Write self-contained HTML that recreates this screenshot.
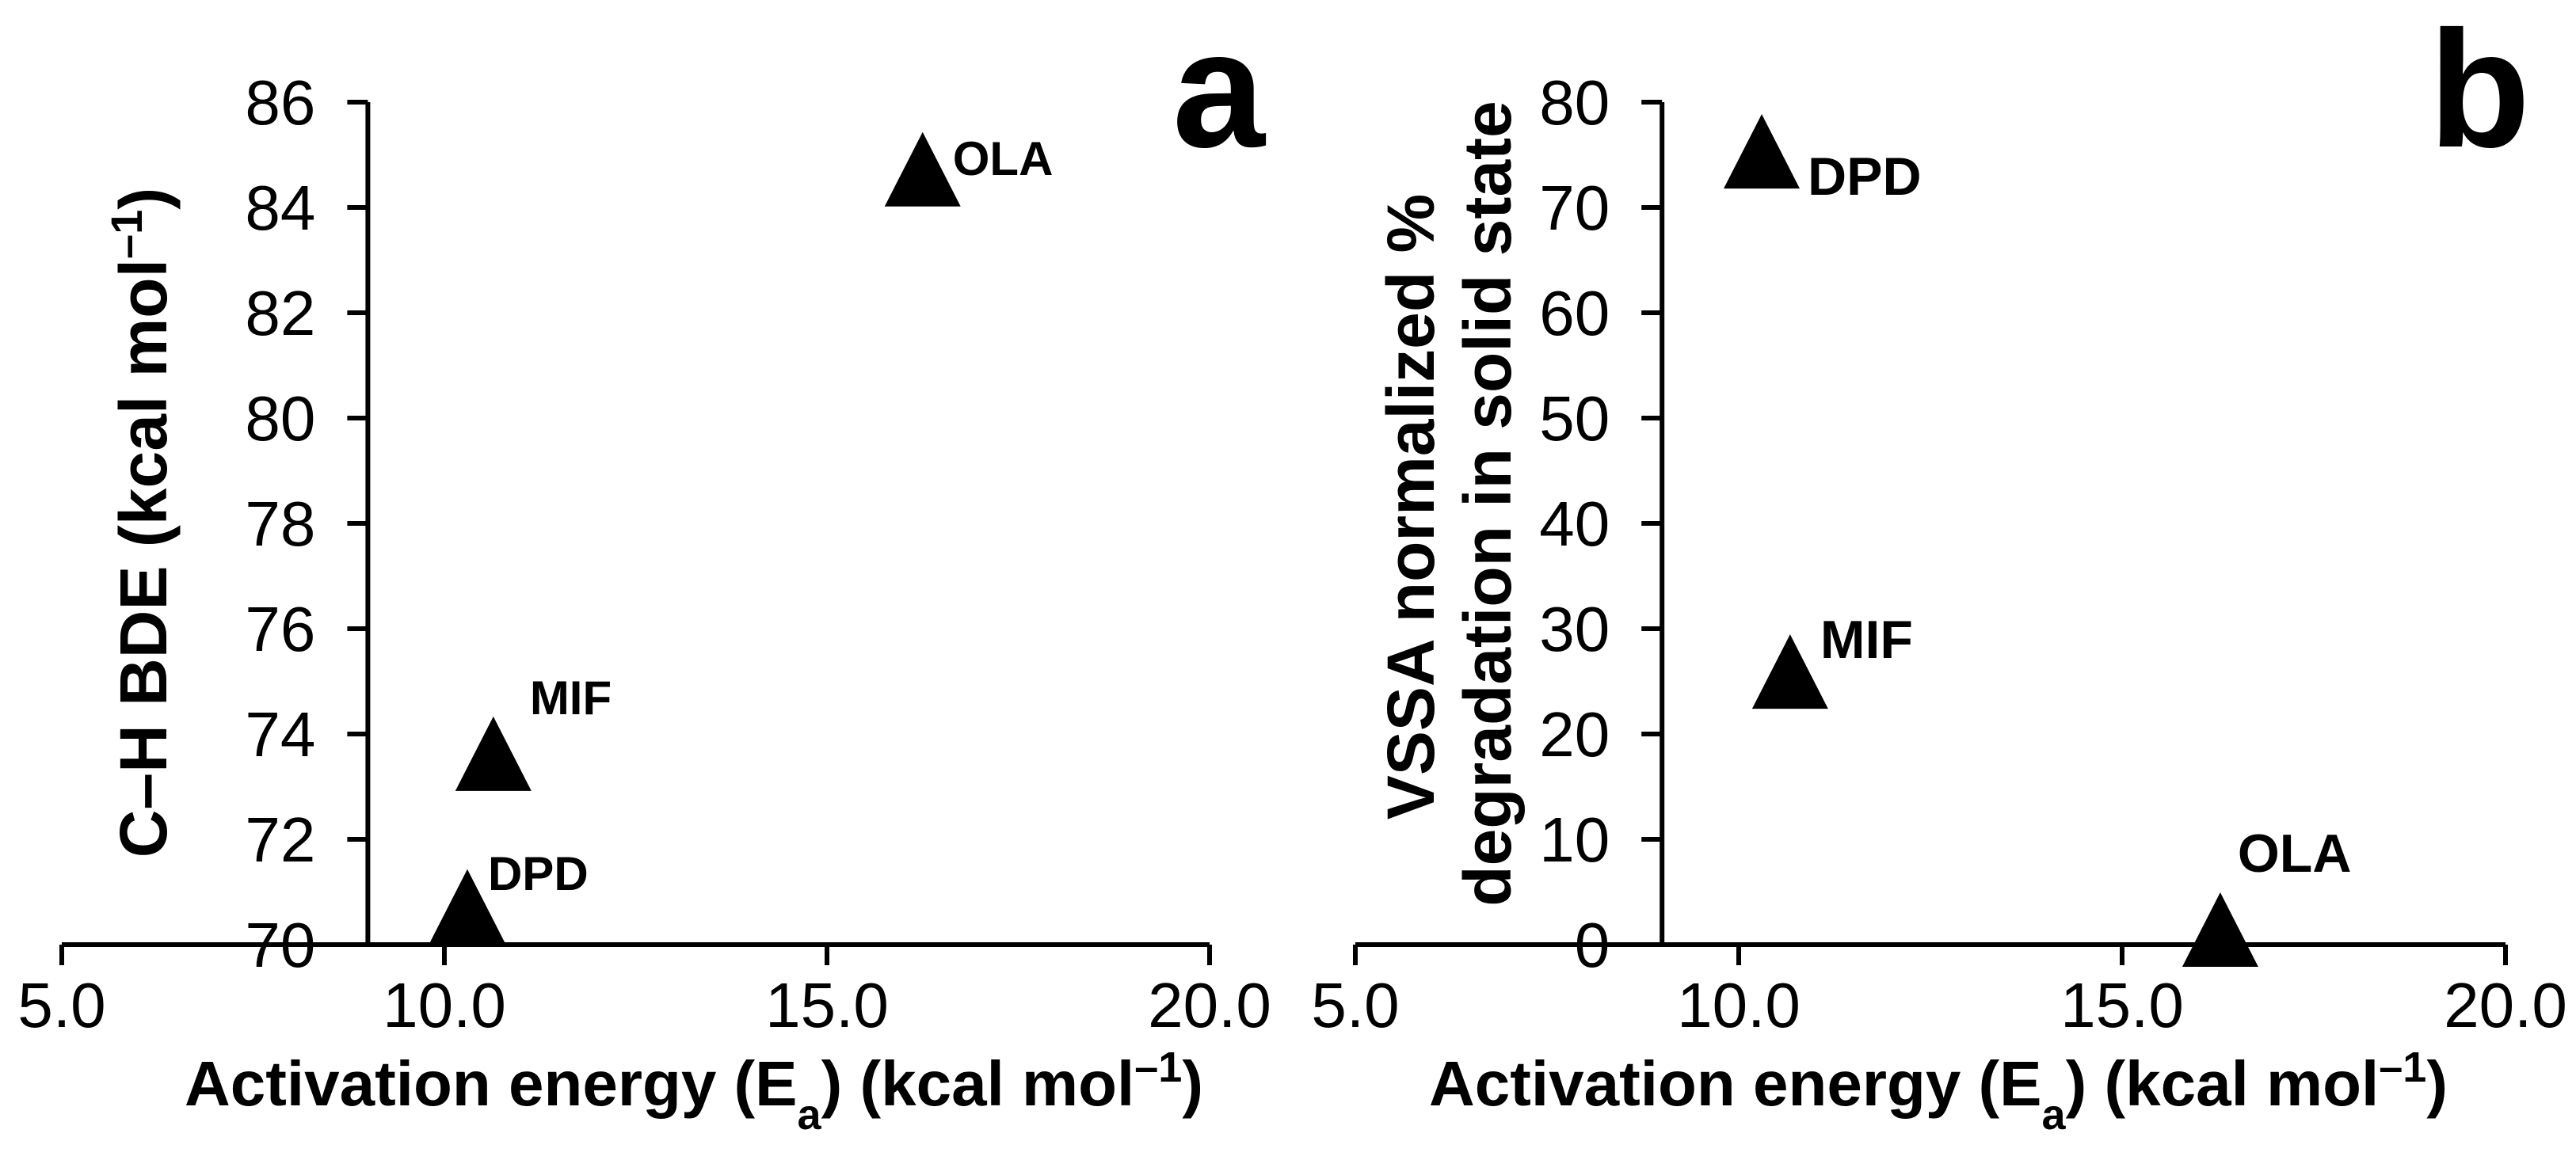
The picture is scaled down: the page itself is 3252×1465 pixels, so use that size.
<!DOCTYPE html>
<html><head><meta charset="utf-8"><style>
html,body{margin:0;padding:0;background:#fff;}
svg{display:block;font-family:"Liberation Sans",Arial,sans-serif;}
</style></head><body>
<svg id="fig" width="3252" height="1465" viewBox="0 0 3252 1465" xmlns="http://www.w3.org/2000/svg">
<rect width="3252" height="1465" fill="#fff"/>
<g id="pa"></g>
<g id="pb"></g>
</svg>
<script>
// Panel a data
const aNames = ["OLA", "MIF", "DPD"];
const aX = [16.25, 10.64, 10.3];
const aY = [84.5, 73.4, 70.5];
const aYTicks = [70, 72, 74, 76, 78, 80, 82, 84, 86];
// Panel b data
const bNames = ["DPD", "MIF", "OLA"];
const bX = [10.3, 10.67, 16.28];
const bY = [74.2, 24.8, 0.3];
const bYTicks = [0, 10, 20, 30, 40, 50, 60, 70, 80];
const xTicks = [5, 10, 15, 20];
const xTickLabels = ["5.0", "10.0", "15.0", "20.0"];

const NS = "http://www.w3.org/2000/svg";
function mk(parent, tag, attrs, text) {
  const e = document.createElementNS(NS, tag);
  for (const k in attrs) e.setAttribute(k, attrs[k]);
  if (text !== undefined) e.textContent = text;
  parent.appendChild(e);
  return e;
}

function panel(g, cfg) {
  const sx = v => cfg.x0 + (v - 5) * (cfg.x1 - cfg.x0) / 15;
  const sy = v => cfg.yb - (v - cfg.ymin) * (cfg.yb - cfg.yt) / (cfg.ymax - cfg.ymin);
  const ax = sx(9);
  const xa = mk(g, "line", {x1: cfg.x0, x2: cfg.x1, y1: cfg.yb, y2: cfg.yb, stroke: "#000", "stroke-width": 6});
  
  
  xTicks.forEach((t, i) => {
    const tk = mk(g, "line", {x1: sx(t), x2: sx(t), y1: cfg.yb, y2: cfg.yb + 26, stroke: "#000", "stroke-width": 6});
    
    
    const tl = mk(g, "text", {x: sx(t), y: cfg.yb + 104, "text-anchor": "middle", "font-size": 80}, xTickLabels[i]);
    
    
  });
  const ya = mk(g, "line", {x1: ax, x2: ax, y1: cfg.yt, y2: cfg.yb, stroke: "#000", "stroke-width": 6});
  
  
  cfg.yTicks.forEach(t => {
    const tk = mk(g, "line", {x1: ax - 26, x2: ax, y1: sy(t), y2: sy(t), stroke: "#000", "stroke-width": 6});
    
    
    const tl = mk(g, "text", {x: ax - 66, y: sy(t) + 28, "text-anchor": "end", "font-size": 80}, String(t));
    
    
  });
  cfg.xs.forEach((v, i) => {
    const cx = sx(v), cy = sy(cfg.ys[i]);
    const w = 48, hTop = 62, hBot = 32;
    const p = mk(g, "polygon", {points: `${cx},${cy - hTop} ${cx - w},${cy + hBot} ${cx + w},${cy + hBot}`, fill: "#000"});
    
    
    const off = cfg.labelOff[i];
    const l = mk(g, "text", {x: cx + off[0], y: cy + off[1], "font-size": cfg.lblSize, "font-weight": "bold"}, cfg.names[i]);
    
    
  });
}

panel(document.getElementById("pa"), {x0: 78, x1: 1527, yb: 1193, yt: 129, ymin: 70, ymax: 86,
  yTicks: aYTicks, xs: aX, ys: aY, names: aNames, lblSize: 60,
  labelOff: [[38, -8], [46, -65], [26, -36]]});
panel(document.getElementById("pb"), {x0: 1711, x1: 3163, yb: 1193, yt: 129, ymin: 0, ymax: 80,
  yTicks: bYTicks, xs: bX, ys: bY, names: bNames, lblSize: 68,
  labelOff: [[58, 40], [38, -32], [22, -88]]});

const pa = document.getElementById("pa"), pb = document.getElementById("pb");
let t;
t = mk(pa, "text", {x: 876, y: 1396, "text-anchor": "middle", "font-size": 80, "font-weight": "bold"});


t.innerHTML = 'Activation energy (E<tspan baseline-shift="sub" font-size="54">a</tspan>) (kcal mol<tspan baseline-shift="super" font-size="54">–1</tspan>)';
t = mk(pb, "text", {x: 2447, y: 1396, "text-anchor": "middle", "font-size": 80, "font-weight": "bold"});


t.innerHTML = 'Activation energy (E<tspan baseline-shift="sub" font-size="54">a</tspan>) (kcal mol<tspan baseline-shift="super" font-size="54">–1</tspan>)';
t = mk(pa, "text", {x: 0, y: 0, "text-anchor": "middle", "font-size": 84, "font-weight": "bold", transform: "translate(210,660) rotate(-90)"});


t.innerHTML = 'C–H BDE (kcal mol<tspan baseline-shift="super" font-size="56">–1</tspan>)';
t = mk(pb, "text", {x: 0, y: 0, "text-anchor": "middle", "font-size": 84, "font-weight": "bold", transform: "translate(1810,640) rotate(-90)"}, "VSSA normalized %");


t = mk(pb, "text", {x: 0, y: 0, "text-anchor": "middle", "font-size": 84, "font-weight": "bold", transform: "translate(1907,636) rotate(-90)"}, "degradation in solid state");


t = mk(pa, "text", {x: 1480, y: 185, "font-size": 210, "font-weight": "bold"}, "a");


t = mk(pb, "text", {x: 3066, y: 185, "font-size": 210, "font-weight": "bold"}, "b");


</script>
</body></html>
